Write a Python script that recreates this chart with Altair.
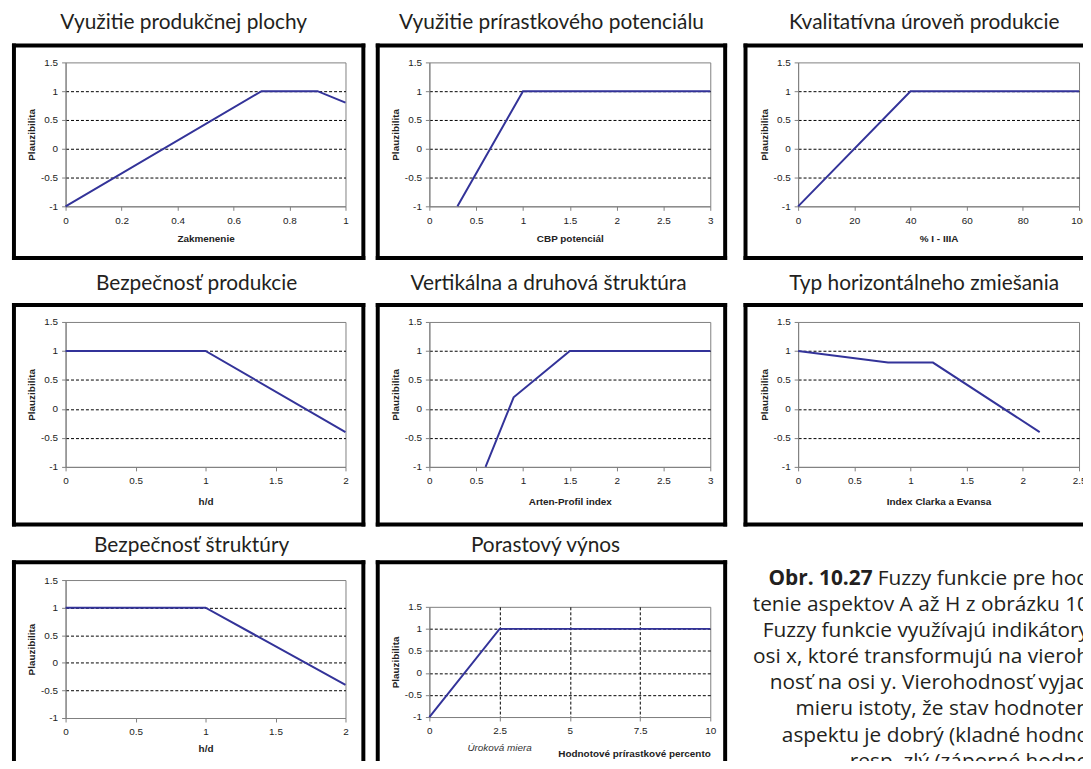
import altair as alt
import pandas as pd

# ---------------- data ----------------
TITLES = [
    "Využitie produkčnej plochy",
    "Využitie prírastkového potenciálu",
    "Kvalitatívna úroveň produkcie",
    "Bezpečnosť produkcie",
    "Vertikálna a druhová štruktúra",
    "Typ horizontálneho zmiešania",
    "Bezpečnosť štruktúry",
    "Porastový výnos",
]
X_TITLES = [
    "Zakmenenie",
    "CBP potenciál",
    "% I - IIIA",
    "h/d",
    "Arten-Profil index",
    "Index Clarka a Evansa",
    "h/d",
    "Hodnotové prírastkové percento",
]
Y_TITLE = "Plauzibilita"

P1_X = [0, 0.7, 0.9, 1.0]
P1_Y = [-1, 1, 1, 0.8]
P2_X = [0.3, 1.0, 3.0]
P2_Y = [-1, 1, 1]
P3_X = [0, 40, 100]
P3_Y = [-1, 1, 1]
P4_X = [0, 1, 2]
P4_Y = [1, 1, -0.4]
P5_X = [0.6, 0.9, 1.5, 3.0]
P5_Y = [-1, 0.2, 1, 1]
P6_X = [0, 0.8, 1.2, 2.15]
P6_Y = [1, 0.8, 0.8, -0.4]
P7_X = [0, 1, 2]
P7_Y = [1, 1, -0.4]
P8_X = [0, 2.5, 10]
P8_Y = [-1, 1, 1]

X_TICKS = [
    [0, 0.2, 0.4, 0.6, 0.8, 1],
    [0, 0.5, 1, 1.5, 2, 2.5, 3],
    [0, 20, 40, 60, 80, 100],
    [0, 0.5, 1, 1.5, 2],
    [0, 0.5, 1, 1.5, 2, 2.5, 3],
    [0, 0.5, 1, 1.5, 2, 2.5],
    [0, 0.5, 1, 1.5, 2],
    [0, 2.5, 5, 7.5, 10],
]
Y_TICKS = [-1, -0.5, 0, 0.5, 1, 1.5]

P8_NOTE = ["Úroková miera"]
P8_NOTE_X = [2.5]

CAPTION_BOLD = ["Obr. 10.27"]
CAPTION_LINES = [
    "Fuzzy funkcie pre hod",
    "tenie aspektov A až H z obrázku 10",
    "Fuzzy funkcie využívajú indikátory",
    "osi x, ktoré transformujú na vieroh",
    "nosť na osi y. Vierohodnosť vyjad",
    "mieru istoty, že stav hodnoten",
    "aspektu je dobrý (kladné hodno",
    "resp. zlý (záporné hodno",
]

# ---------------- style ----------------
LINE_COLOR = "#333399"
GRAY = "#808080"
TXT = "#231f20"
TXT2 = "#222222"
TFONT = "Lato"
CFONT = "Open Sans"
AFONT = "Liberation Sans"
TFS = 21
CAP_FS = 21

ONE = pd.DataFrame({"k": [0]})


def block(x1, x2, y1, y2, color="black"):
    return alt.Chart(ONE).mark_rect(color=color).encode(
        x=alt.value(x1), x2=alt.value(x2), y=alt.value(y1), y2=alt.value(y2)
    )


def frame(W, H, L, R, T, B, right_open=False, bottom_open=False):
    t = 4
    xl, xr = -L, W + R
    yt, yb = -T, H + B
    parts = [block(xl, xr, yt, yt + t), block(xl, xl + t, yt, yb)]
    if not right_open:
        parts.append(block(xr - t, xr, yt, yb))
    if not bottom_open:
        parts.append(block(xl, xr, yb - t, yb))
    return parts


def panel(idx, xs, ys, W, H, L, R, T, B, right_open=False, bottom_open=False,
          title_off=6, title_dx=0, vgrid=False, x_title_pad=8, note=False):
    xt = X_TICKS[idx]
    lo, hi = xt[0], xt[-1]
    df = pd.DataFrame({"x": xs, "y": ys})
    xsc = alt.Scale(domain=[lo, hi], nice=False, zero=False)
    ysc = alt.Scale(domain=[Y_TICKS[0], Y_TICKS[-1]], nice=False, zero=False)
    common = dict(
        domainColor=GRAY, tickColor=GRAY, tickSize=4,
        labelFont=AFONT, labelFontSize=10, labelColor=TXT2,
        titleFont=AFONT, titleFontSize=10, titleFontWeight="bold", titleColor=TXT2,
        labelFlush=False, labelOverlap=False, labelExpr="'' + datum.value",
        gridColor="black", gridDash=[3, 2], gridWidth=1,
    )
    xaxis = alt.Axis(
        values=xt, title=X_TITLES[idx], labelPadding=5, titlePadding=x_title_pad,
        grid=vgrid,
        gridOpacity={"condition": {"test": f"datum.value <= {lo} || datum.value >= {hi}", "value": 0}, "value": 1},
        titleAnchor="end" if note else "middle",
        **common,
    )
    yaxis = alt.Axis(
        values=Y_TICKS, title=Y_TITLE, labelPadding=4, titlePadding=4, grid=True,
        gridOpacity={"condition": {"test": "datum.value < -0.75 || datum.value > 1.25", "value": 0}, "value": 1},
        **common,
    )
    line = alt.Chart(df).mark_line(color=LINE_COLOR, strokeWidth=2).encode(
        x=alt.X("x:Q", scale=xsc, axis=xaxis),
        y=alt.Y("y:Q", scale=ysc, axis=yaxis),
    )
    layers = frame(W, H, L, R, T, B, right_open, bottom_open) + [line]
    if note:
        ndf = pd.DataFrame({"x": P8_NOTE_X, "t": P8_NOTE})
        layers.append(
            alt.Chart(ndf).mark_text(font=AFONT, fontSize=10, fontStyle="italic", color="#333333",
                                     baseline="middle", align="center").encode(
                x=alt.X("x:Q", scale=xsc), y=alt.value(H + 31), text="t:N")
        )
    return alt.layer(*layers).properties(
        width=W, height=H,
        title=alt.TitleParams(TITLES[idx], font=TFONT, fontSize=TFS, fontWeight="normal", color=TXT,
                              anchor="middle", frame="bounds", offset=title_off, dx=title_dx),
    )


# column 1
p1 = panel(0, P1_X, P1_Y, 282, 145, 54, 20, 19, 54, title_off=10.5, title_dx=-5, x_title_pad=8)
p4 = panel(3, P4_X, P4_Y, 282, 146, 54, 20, 19, 60, title_off=9, title_dx=8, x_title_pad=11)
p7 = panel(6, P7_X, P7_Y, 282, 139, 54, 20, 20, 50, bottom_open=True, title_off=4.5, title_dx=3,
           x_title_pad=7)
# column 2
p2 = panel(1, P2_X, P2_Y, 283, 145, 54, 17, 19, 54, title_off=10.5, title_dx=0, x_title_pad=8)
p5 = panel(4, P5_X, P5_Y, 283, 146, 54, 17, 19, 60, title_off=9, title_dx=-3, x_title_pad=11)
p8 = panel(7, P8_X, P8_Y, 283, 111, 54, 17, 47, 50, bottom_open=True, title_off=4.5, title_dx=-6,
           vgrid=True, x_title_pad=13, note=True)
# column 3
p3 = panel(2, P3_X, P3_Y, 283, 145, 55, 10, 19, 54, right_open=True, title_off=10.5, title_dx=8,
           x_title_pad=8)
p6 = panel(5, P6_X, P6_Y, 283, 146, 55, 10, 19, 60, right_open=True, title_off=9, title_dx=8,
           x_title_pad=11)

# caption (below panel 6, text runs off the right edge)
WC, HC, CAP_LEFT = 293, 240, -64
cap_scale = alt.Scale(domain=[0, 7], range=[50, 234])
cap_df = pd.DataFrame({"i": list(range(len(CAPTION_LINES))), "t": CAPTION_LINES})
cap_text = alt.Chart(cap_df).mark_text(align="right", baseline="alphabetic", font=CFONT, fontSize=CAP_FS,
                                       color=TXT).encode(
    x=alt.value(WC), y=alt.Y("i:Q", scale=cap_scale, axis=None), text="t:N")
cap_bold = alt.Chart(pd.DataFrame({"i": [0], "t": CAPTION_BOLD})).mark_text(
    align="right", baseline="alphabetic", font=CFONT, fontSize=CAP_FS, fontWeight="bold",
    color=TXT, dx=-218).encode(
    x=alt.value(WC), y=alt.Y("i:Q", scale=cap_scale, axis=None), text="t:N")
caption = alt.layer(block(CAP_LEFT, WC, 0, HC, color="white"), cap_text, cap_bold).properties(
    width=WC, height=HC, view=alt.ViewBackground(stroke="transparent"))

col1 = alt.vconcat(alt.vconcat(p1, p4, spacing=11.5), p7, spacing=7.5)
col2 = alt.vconcat(alt.vconcat(p2, p5, spacing=11.5), p8, spacing=7.5)
col3 = alt.vconcat(alt.vconcat(p3, p6, spacing=11.5), caption, spacing=7.5)

# fixed canvas: 1083 x 753 px, panel 1 plot area origin at page (66, 60)
chart = alt.hconcat(alt.hconcat(col1, col2, spacing=8.5), col3, spacing=6).properties(
    autosize=alt.AutoSizeParams(type="none"),
    padding={"left": 58, "top": 52, "right": 1025, "bottom": 701},
    background="white",
).configure_view(stroke=GRAY, strokeWidth=1)

chart.save("out.html", embed_options={"renderer": "svg", "actions": False})
